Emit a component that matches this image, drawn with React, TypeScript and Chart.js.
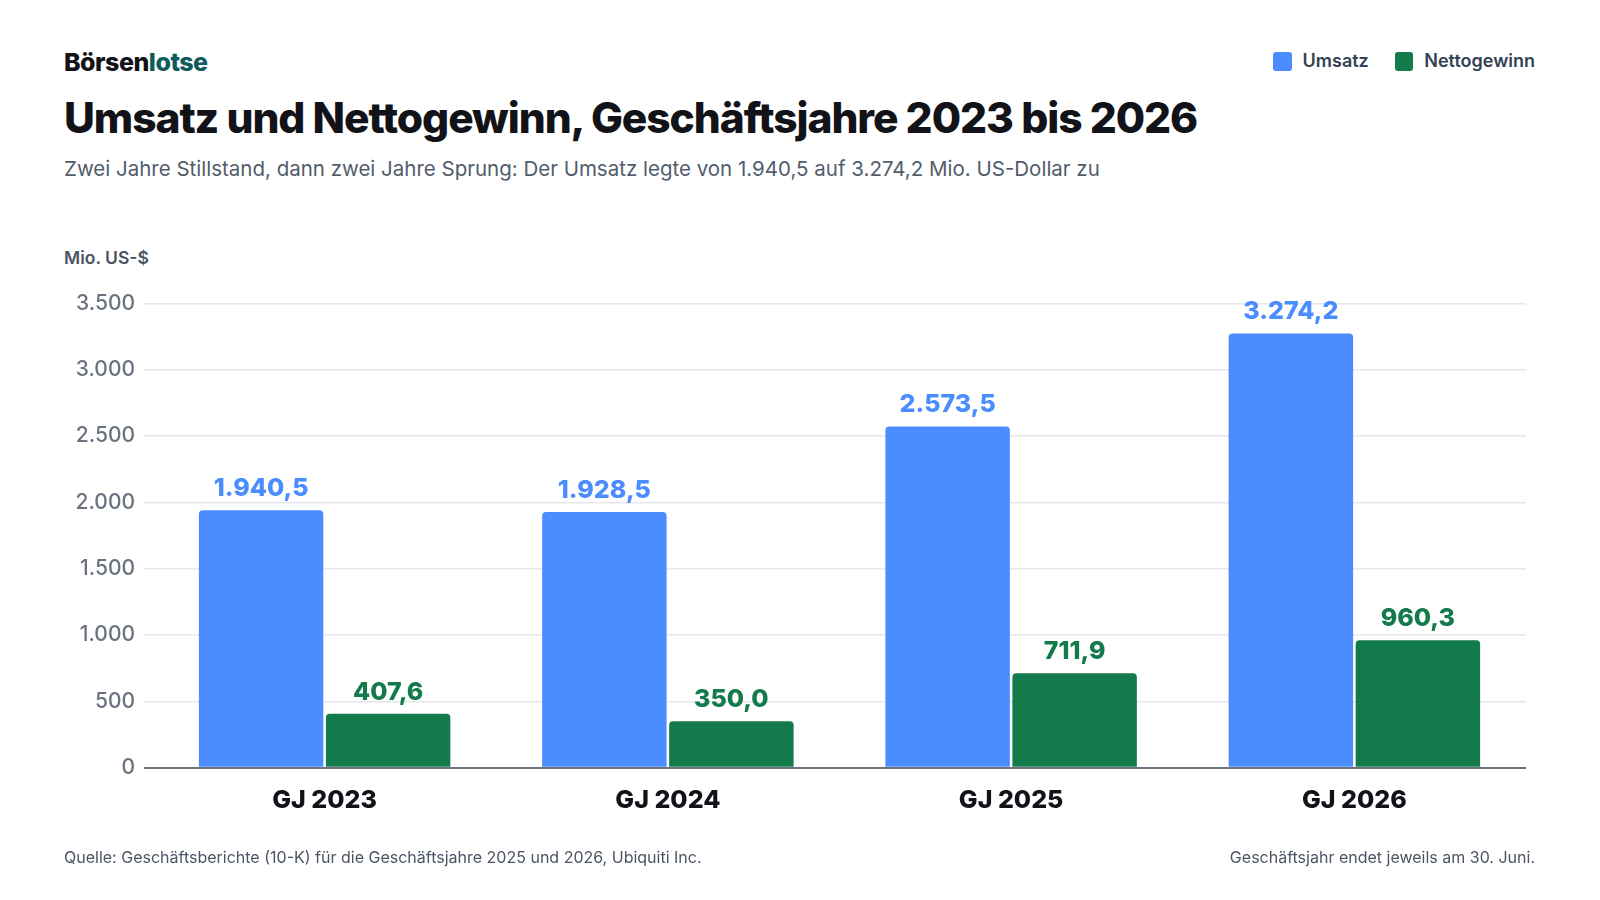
import React, { useEffect, useRef } from "react";
import { Chart, registerables } from "chart.js";

Chart.register(...registerables);

const years = ["GJ 2023", "GJ 2024", "GJ 2025", "GJ 2026"];
const umsatz = [1940.5, 1928.5, 2573.5, 3274.2];
const nettogewinn = [407.6, 350.0, 711.9, 960.3];

const BLUE = "#4b8cff";
const GREEN = "#127a4b";
const FONT = "Inter, 'Noto Sans', sans-serif";

// german number format: 1.940,5
function fmt(v: number, decimals: number) {
  const fixed = v.toFixed(decimals);
  const [intPart, dec] = fixed.split(".");
  const grouped = intPart.replace(/\B(?=(\d{3})+(?!\d))/g, ".");
  return dec ? grouped + "," + dec : grouped;
}

const valueLabels = {
  id: "valueLabels",
  afterDatasetsDraw(chart: any) {
    const { ctx } = chart;
    ctx.save();
    ctx.font = `800 25px ${FONT}`;
    ctx.textAlign = "center";
    ctx.textBaseline = "alphabetic";
    chart.data.datasets.forEach((ds: any, i: number) => {
      const meta = chart.getDatasetMeta(i);
      meta.data.forEach((bar: any, j: number) => {
        ctx.fillStyle = ds.labelColor;
        ctx.fillText(fmt(ds.data[j], 1), bar.x, bar.y - 14);
      });
    });
    ctx.restore();
  },
};

export default function App() {
  const chartRef = useRef<HTMLCanvasElement | null>(null);

  useEffect(() => {
    const ctx = chartRef.current?.getContext("2d");
    if (!ctx) return;
    const chart = new Chart(ctx, {
      type: "bar",
      data: {
        labels: years,
        datasets: [
          {
            label: "Umsatz",
            data: umsatz,
            backgroundColor: BLUE,
            borderRadius: { topLeft: 4, topRight: 4 },
            borderSkipped: "bottom",
            categoryPercentage: 0.74,
            barPercentage: 0.98,
            labelColor: BLUE,
          } as any,
          {
            label: "Nettogewinn",
            data: nettogewinn,
            backgroundColor: GREEN,
            borderRadius: { topLeft: 4, topRight: 4 },
            borderSkipped: "bottom",
            categoryPercentage: 0.74,
            barPercentage: 0.98,
            labelColor: GREEN,
          } as any,
        ],
      },
      options: {
        animation: false,
        responsive: false,
        maintainAspectRatio: false,
        layout: { padding: { left: 63, right: 74, top: 303.5, bottom: 72.3 } },
        plugins: {
          legend: { display: false },
          tooltip: { enabled: false },
        },
        scales: {
          x: {
            grid: { display: false, drawTicks: false },
            border: { display: false },
            ticks: {
              color: "#111318",
              padding: 18,
              font: { family: FONT, size: 25, weight: 800 },
            },
            afterFit: (s: any) => {
              s.height = 60;
            },
          },
          y: {
            min: 0,
            max: 3500,
            border: { display: false },
            grid: {
              color: (c: any) => (c.tick && c.tick.value === 0 ? "#6b7280" : "#e5e7eb"),
              lineWidth: (c: any) => (c.tick && c.tick.value === 0 ? 2 : 1.5),
              drawTicks: true,
              tickLength: 9,
            },
            ticks: {
              stepSize: 500,
              padding: 9,
              color: "#6b7280",
              font: { family: FONT, size: 21, weight: 500 },
              callback: (v: any) => fmt(Number(v), 0),
            },
            afterFit: (s: any) => {
              s.width = 90;
            },
          },
        },
      },
      plugins: [valueLabels],
    });
    return () => chart.destroy();
  }, []);

  const text = (style: React.CSSProperties): React.CSSProperties => ({
    position: "absolute",
    margin: 0,
    whiteSpace: "nowrap",
    fontFamily: FONT,
    lineHeight: 1,
    ...style,
  });

  return (
    <div
      style={{
        position: "absolute",
        left: 0,
        top: 0,
        width: 1600,
        height: 900,
        background: "#ffffff",
        overflow: "hidden",
      }}
    >
      <div style={text({ left: 64, top: 50, fontSize: 25, fontWeight: 800, letterSpacing: "-0.02em", color: "#111318" })}>
        Börsen<span style={{ color: "#0f5b5c" }}>lotse</span>
      </div>
      <div style={text({ left: 64, top: 97, fontSize: 42.5, fontWeight: 800, letterSpacing: "-0.025em", color: "#111318" })}>
        Umsatz und Nettogewinn, Geschäftsjahre 2023 bis 2026
      </div>
      <div style={text({ left: 64, top: 159, fontSize: 20.5, fontWeight: 400, color: "#525c6b" })}>
        Zwei Jahre Stillstand, dann zwei Jahre Sprung: Der Umsatz legte von 1.940,5 auf 3.274,2 Mio. US-Dollar zu
      </div>
      <div style={text({ right: 65, top: 52, display: "flex", alignItems: "center", fontSize: 18, fontWeight: 600, color: "#334155" })}>
        <span style={{ width: 18.5, height: 18.5, borderRadius: 3, background: BLUE, display: "inline-block", marginRight: 11 }} />
        <span>Umsatz</span>
        <span style={{ width: 18.5, height: 18.5, borderRadius: 3, background: GREEN, display: "inline-block", marginLeft: 26, marginRight: 11 }} />
        <span>Nettogewinn</span>
      </div>
      <div style={text({ left: 64, top: 249, fontSize: 17.5, fontWeight: 600, color: "#4b5563" })}>Mio. US-$</div>
      <canvas ref={chartRef} width={1600} height={900} style={{ position: "absolute", left: 0, top: 0, width: 1600, height: 900 }} />
      <div style={text({ left: 64, top: 849, fontSize: 16, fontWeight: 400, color: "#4b5563" })}>
        Quelle: Geschäftsberichte (10-K) für die Geschäftsjahre 2025 und 2026, Ubiquiti Inc.
      </div>
      <div style={text({ right: 65, top: 849, fontSize: 16, fontWeight: 400, color: "#4b5563" })}>
        Geschäftsjahr endet jeweils am 30. Juni.
      </div>
    </div>
  );
}
